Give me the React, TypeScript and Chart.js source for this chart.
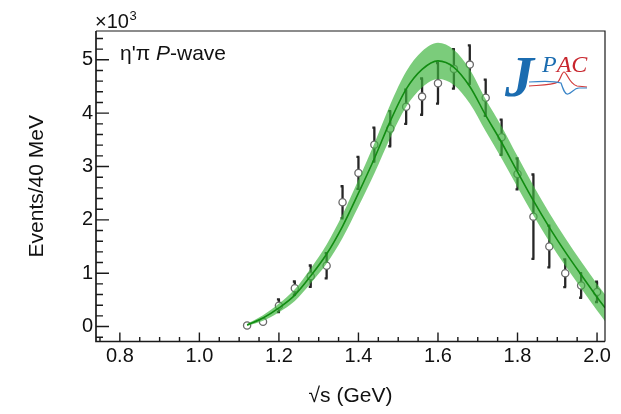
import React, { useEffect, useRef } from "react";
import { Chart, registerables } from "chart.js";

Chart.register(...registerables);

// ---- data (events in units of 10^3) ----
const massX = [1.12, 1.16, 1.2, 1.24, 1.28, 1.32, 1.36, 1.4, 1.44, 1.48, 1.52, 1.56, 1.6, 1.64, 1.68, 1.72, 1.76, 1.8, 1.84, 1.88, 1.92, 1.96, 2.0];
const events = [0.02, 0.09, 0.39, 0.72, 0.945, 1.14, 2.33, 2.88, 3.41, 3.71, 4.12, 4.31, 4.56, 4.83, 4.91, 4.29, 3.55, 2.86, 2.06, 1.5, 1.0, 0.77, 0.65];
const eventErr = [0.02, 0.03, 0.12, 0.125, 0.2, 0.235, 0.3, 0.3, 0.32, 0.33, 0.32, 0.34, 0.38, 0.37, 0.36, 0.34, 0.33, 0.29, 0.79, 0.39, 0.26, 0.23, 0.19];

const fitX = [1.12, 1.16, 1.2, 1.24, 1.28, 1.32, 1.36, 1.4, 1.44, 1.48, 1.52, 1.56, 1.6, 1.64, 1.68, 1.72, 1.76, 1.8, 1.84, 1.88, 1.92, 1.96, 2.0, 2.02];
const fitY = [0.03, 0.16, 0.35, 0.59, 0.95, 1.36, 1.88, 2.5, 3.15, 3.85, 4.45, 4.82, 4.98, 4.86, 4.5, 3.96, 3.45, 2.9, 2.36, 1.86, 1.4, 0.97, 0.55, 0.35];
const fitErr = [0.02, 0.05, 0.08, 0.11, 0.14, 0.18, 0.22, 0.25, 0.28, 0.31, 0.33, 0.34, 0.34, 0.33, 0.32, 0.3, 0.3, 0.29, 0.28, 0.27, 0.26, 0.25, 0.25, 0.25];

const xTicks = [0.8, 1.0, 1.2, 1.4, 1.6, 1.8, 2.0];
const yTicks = [0, 1, 2, 3, 4, 5];

const X_MIN = 0.74;
const X_MAX = 2.02;
const Y_MIN = -0.28;
const Y_MAX = 5.54;
const X_MINOR = 0.05;
const Y_MINOR = 0.2;

const FONT = "'Liberation Sans', Arial, Helvetica, sans-serif";
const SERIF = "'Liberation Serif', 'Times New Roman', serif";

const rootPlugin = {
  id: "rootStyle",
  beforeDatasetsDraw(chart: any) {
    const { ctx, scales } = chart;
    const x = scales.x;
    const y = scales.y;
    ctx.save();
    ctx.strokeStyle = "#262626";
    ctx.lineWidth = 2.3;
    massX.forEach((m, i) => {
      const e = eventErr[i];
      const px = x.getPixelForValue(m);
      const y1 = y.getPixelForValue(events[i] - e);
      const y2 = y.getPixelForValue(events[i] + e);
      if (Math.abs(y1 - y2) < 7) return;
      ctx.beginPath();
      ctx.moveTo(px, y1);
      ctx.lineTo(px, y2);
      ctx.moveTo(px - 2, y1);
      ctx.lineTo(px + 1, y1);
      ctx.moveTo(px - 2, y2);
      ctx.lineTo(px + 1, y2);
      ctx.stroke();
    });
    ctx.restore();
  },
  afterDraw(chart: any) {
    const { ctx, chartArea, scales } = chart;
    const x = scales.x;
    const y = scales.y;
    const { left, right, top, bottom } = chartArea;
    ctx.save();
    // frame
    ctx.strokeStyle = "#1a1a1a";
    ctx.lineWidth = 1.2;
    ctx.beginPath();
    ctx.moveTo(left, top);
    ctx.lineTo(right, top);
    ctx.lineTo(right, bottom);
    ctx.stroke();
    ctx.lineWidth = 1.7;
    ctx.beginPath();
    ctx.moveTo(left, top);
    ctx.lineTo(left, bottom);
    ctx.lineTo(right, bottom);
    ctx.stroke();
    // inward ticks
    ctx.lineWidth = 1.4;
    ctx.beginPath();
    for (let k = Math.ceil(X_MIN / X_MINOR - 1e-6); k * X_MINOR <= X_MAX + 1e-6; k++) {
      const v = k * X_MINOR;
      const major = xTicks.some((t) => Math.abs(t - v) < 1e-6);
      const px = x.getPixelForValue(v);
      ctx.moveTo(px, bottom);
      ctx.lineTo(px, bottom - (major ? 9 : 4.5));
    }
    for (let k = Math.ceil(Y_MIN / Y_MINOR - 1e-6); k * Y_MINOR <= Y_MAX + 1e-6; k++) {
      const v = k * Y_MINOR;
      const major = yTicks.some((t) => Math.abs(t - v) < 1e-6);
      const py = y.getPixelForValue(v);
      ctx.moveTo(left, py);
      ctx.lineTo(left + (major ? 13 : 7), py);
    }
    ctx.stroke();

    // exponent label
    ctx.fillStyle = "#111";
    ctx.textBaseline = "alphabetic";
    ctx.textAlign = "left";
    ctx.font = `20px ${FONT}`;
    ctx.fillText("\u00d710", left - 1, top - 3);
    const w10 = ctx.measureText("\u00d710").width;
    ctx.font = `13px ${FONT}`;
    ctx.fillText("3", left - 1 + w10 + 0.5, top - 11);

    // plot label
    let tx = left + 24;
    const ty = top + 29;
    ctx.font = `21px ${FONT}`;
    ctx.fillText("\u03b7'\u03c0 ", tx, ty);
    tx += ctx.measureText("\u03b7'\u03c0 ").width;
    ctx.font = `italic 21px ${FONT}`;
    ctx.fillText("P", tx, ty);
    tx += ctx.measureText("P").width;
    ctx.font = `21px ${FONT}`;
    ctx.fillText("-wave", tx, ty);

    // JPAC logo
    const lx = right - 98;
    const ly = top;
    ctx.lineWidth = 1.2;
    ctx.strokeStyle = "#d23a3a";
    ctx.beginPath();
    ctx.moveTo(lx + 22, ly + 55);
    ctx.bezierCurveTo(lx + 36, ly + 54, lx + 46, ly + 54, lx + 51, ly + 51);
    ctx.bezierCurveTo(lx + 54, ly + 47, lx + 55, ly + 41, lx + 57, ly + 41);
    ctx.bezierCurveTo(lx + 60, ly + 41, lx + 62, ly + 53, lx + 70, ly + 55);
    ctx.lineTo(lx + 80, ly + 56);
    ctx.stroke();
    ctx.strokeStyle = "#3a85c8";
    ctx.beginPath();
    ctx.moveTo(lx + 22, ly + 51);
    ctx.bezierCurveTo(lx + 36, ly + 50, lx + 48, ly + 50, lx + 54, ly + 52);
    ctx.bezierCurveTo(lx + 56, ly + 58, lx + 58, ly + 64, lx + 61, ly + 63);
    ctx.bezierCurveTo(lx + 65, ly + 62, lx + 67, ly + 57, lx + 72, ly + 57);
    ctx.lineTo(lx + 80, ly + 57);
    ctx.stroke();
    ctx.fillStyle = "#1b6cb0";
    ctx.font = `bold italic 58px ${SERIF}`;
    ctx.fillText("J", lx - 2, ly + 65);
    ctx.font = `italic 24px ${SERIF}`;
    ctx.fillText("P", lx + 35, ly + 41);
    const wp = ctx.measureText("P").width;
    ctx.fillStyle = "#c8262e";
    ctx.fillText("AC", lx + 35 + wp, ly + 41);
    ctx.restore();
  },
};

export default function App() {
  const ref = useRef<HTMLCanvasElement | null>(null);
  useEffect(() => {
    document.body.style.margin = "0";
    const canvas = ref.current;
    if (!canvas) return;
    const chart = new Chart(canvas, {
      type: "scatter",
      data: {
        datasets: [
          {
            label: "data",
            data: massX.map((m, i) => ({ x: m, y: events[i] })),
            pointRadius: 3.6,
            pointBackgroundColor: "#ffffff",
            pointBorderColor: "#6a6a6a",
            pointBorderWidth: 1.3,
            showLine: false,
            order: 3,
          },
          {
            label: "lower",
            type: "line",
            data: fitX.map((m, i) => ({ x: m, y: fitY[i] - fitErr[i] })),
            borderColor: "transparent",
            borderWidth: 0,
            pointRadius: 0,
            fill: false,
            cubicInterpolationMode: "monotone",
            order: 2,
          },
          {
            label: "upper",
            type: "line",
            data: fitX.map((m, i) => ({ x: m, y: fitY[i] + fitErr[i] })),
            borderColor: "transparent",
            borderWidth: 0,
            pointRadius: 0,
            fill: "-1",
            backgroundColor: "rgba(60,180,60,0.68)",
            cubicInterpolationMode: "monotone",
            order: 2,
          },
          {
            label: "fit",
            type: "line",
            data: fitX.map((m, i) => ({ x: m, y: fitY[i] })),
            borderColor: "rgb(18,140,18)",
            borderWidth: 1.6,
            pointRadius: 0,
            fill: false,
            cubicInterpolationMode: "monotone",
            order: 1,
          },
        ],
      } as any,
      options: {
        animation: false,
        responsive: false,
        devicePixelRatio: 1,
        events: [],
        layout: { padding: { left: 0, top: 31, right: 16, bottom: 0 } },
        plugins: { legend: { display: false }, tooltip: { enabled: false } },
        scales: {
          x: {
            type: "linear",
            min: X_MIN,
            max: X_MAX,
            afterBuildTicks: (s: any) => {
              s.ticks = xTicks.map((v) => ({ value: v }));
            },
            afterFit: (s: any) => {
              s.height = 72.5;
            },
            ticks: {
              autoSkip: false,
              maxRotation: 0,
              padding: 3,
              color: "#111",
              font: { family: FONT, size: 20 },
              callback: (v: any) => Number(v).toFixed(1),
            },
            grid: { display: false, drawTicks: false },
            border: { display: false },
            title: {
              display: true,
              text: "\u221as (GeV)",
              color: "#111",
              font: { family: FONT, size: 21 },
              padding: { top: 0, bottom: 5 },
            },
          },
          y: {
            type: "linear",
            min: Y_MIN,
            max: Y_MAX,
            afterBuildTicks: (s: any) => {
              s.ticks = yTicks.map((v) => ({ value: v }));
            },
            afterFit: (s: any) => {
              s.width = 96;
            },
            ticks: {
              padding: 3,
              color: "#111",
              font: { family: FONT, size: 20 },
              callback: (v: any) => String(v),
            },
            grid: { display: false, drawTicks: false },
            border: { display: false },
            title: {
              display: true,
              text: "Events/40 MeV",
              color: "#111",
              font: { family: FONT, size: 21 },
              padding: { top: 25, bottom: 0 },
            },
          },
        },
      } as any,
      plugins: [rootPlugin],
    });
    return () => chart.destroy();
  }, []);
  return (
    <div style={{ width: 621, height: 414 }}>
      <canvas ref={ref} width={621} height={414} style={{ display: "block" }} />
    </div>
  );
}
